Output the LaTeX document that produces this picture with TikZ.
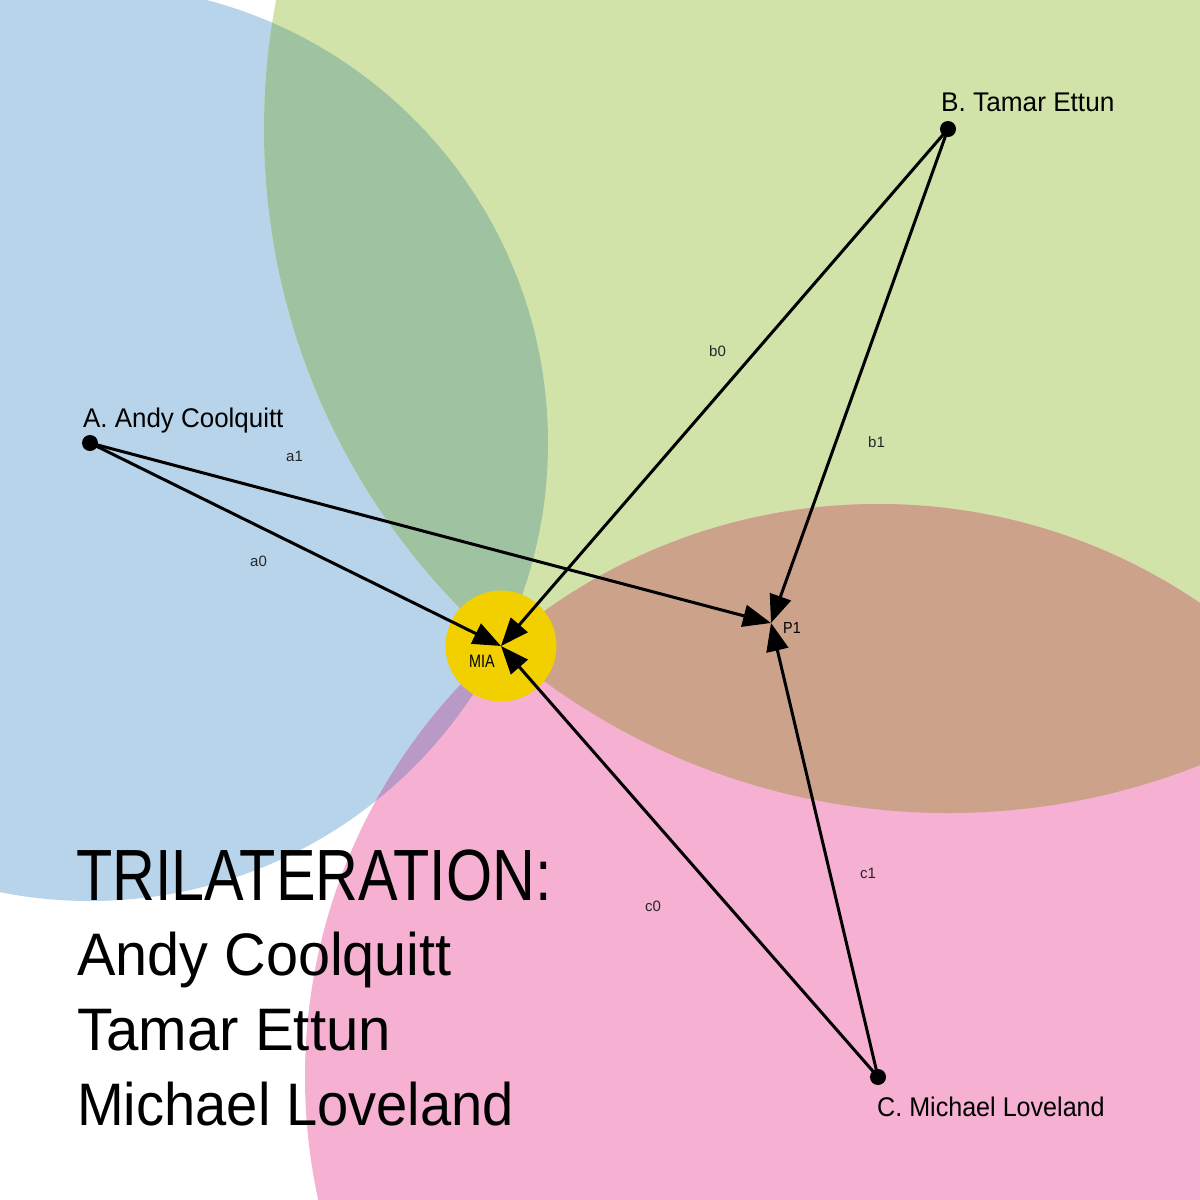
\documentclass[tikz,border=0pt]{standalone}
\usepackage{fontspec}
\usepackage{graphicx}
\setmainfont{Liberation Sans}
\usetikzlibrary{arrows.meta}
\definecolor{cblue}{HTML}{B8D4EA}
\definecolor{cgreen}{HTML}{D2E3A9}
\definecolor{cpink}{HTML}{F5B0D2}
\definecolor{cdkgreen}{HTML}{9FC3A0}
\definecolor{cbrown}{HTML}{CCA28A}
\definecolor{cpurple}{HTML}{B99AC6}
\definecolor{cyellow}{HTML}{F2D000}
\newcommand{\fsz}[1]{\fontsize{#1pt}{#1pt}\selectfont}
\begin{document}
\begin{tikzpicture}[x=1pt,y=-1pt,
  dot/.style={circle,fill=black,inner sep=0pt,minimum size=16pt},
  arr/.style={line width=3pt,-{Triangle[length=28pt,width=22pt]}},
  txt/.style={anchor=base west,inner sep=0pt,text=black},
  lbl/.style={anchor=base west,inner sep=0pt,text=black!85,font=\fsz{15}},
]
\useasboundingbox (0,0) rectangle (1200,1200);
\fill[white] (0,0) rectangle (1200,1200);
% circles
\coordinate (cA) at (90,443);
\coordinate (cB) at (948,129);
\coordinate (cC) at (878,1077);
\begin{scope}
\clip (0,0) rectangle (1200,1200);
\fill[cblue] (cA) circle (458pt);
\fill[cgreen] (cB) circle (684pt);
\fill[cpink] (cC) circle (573pt);
\begin{scope}
  \clip (cA) circle (458pt);
  \fill[cdkgreen] (cB) circle (684pt);
\end{scope}
\begin{scope}
  \clip (cB) circle (684pt);
  \fill[cbrown] (cC) circle (573pt);
\end{scope}
\begin{scope}
  \clip (cA) circle (458pt);
  \fill[cpurple] (cC) circle (573pt);
\end{scope}
\end{scope}
% MIA
\coordinate (mia) at (501,646);
\node[circle,fill=cyellow,minimum size=111pt,inner sep=0pt] (miacircle) at (mia) {};
\node[txt] (mialbl) at (469,667) {\fsz{18}\scalebox{0.8}[1]{MIA}};
% P1
\coordinate (p1) at (771,623);
\node[txt] (p1lbl) at (783,633) {\fsz{16}\scalebox{0.9}[1]{P1}};
% points
\node[dot] (A) at (cA) {};
\node[dot] (B) at (cB) {};
\node[dot] (C) at (cC) {};
\node[txt] (Alab) at (83,427) {\fsz{27}\scalebox{0.96}[1]{A. Andy Coolquitt}};
\node[txt] (Blab) at (941,111) {\fsz{27}\scalebox{0.97}[1]{B. Tamar Ettun}};
\node[txt] (Clab) at (877,1116) {\fsz{27}\scalebox{0.93}[1]{C. Michael Loveland}};
% arrows
\draw[arr] (A.center) -- (mia);
\draw[arr] (A.center) -- (p1);
\draw[arr] (B.center) -- (mia);
\draw[arr] (B.center) -- (p1);
\draw[arr] (C.center) -- (mia);
\draw[arr] (C.center) -- (p1);
% edge labels
\node[lbl] (la0) at (250,566) {a0};
\node[lbl] (la1) at (286,461) {a1};
\node[lbl] (lb0) at (709,356) {b0};
\node[lbl] (lb1) at (868,447) {b1};
\node[lbl] (lc0) at (645,911) {c0};
\node[lbl] (lc1) at (860,878) {c1};
% title
\node[txt] (t0) at (76,900) {\fsz{72.6}\scalebox{0.817}[1]{TRILATERATION:}};
\node[txt] (t1) at (77,975) {\fsz{60}\scalebox{0.96}[1]{Andy Coolquitt}};
\node[txt] (t2) at (77,1050) {\fsz{60}\scalebox{0.97}[1]{Tamar Ettun}};
\node[txt] (t3) at (77,1125) {\fsz{60}\scalebox{0.935}[1]{Michael Loveland}};
\end{tikzpicture}
\end{document}
